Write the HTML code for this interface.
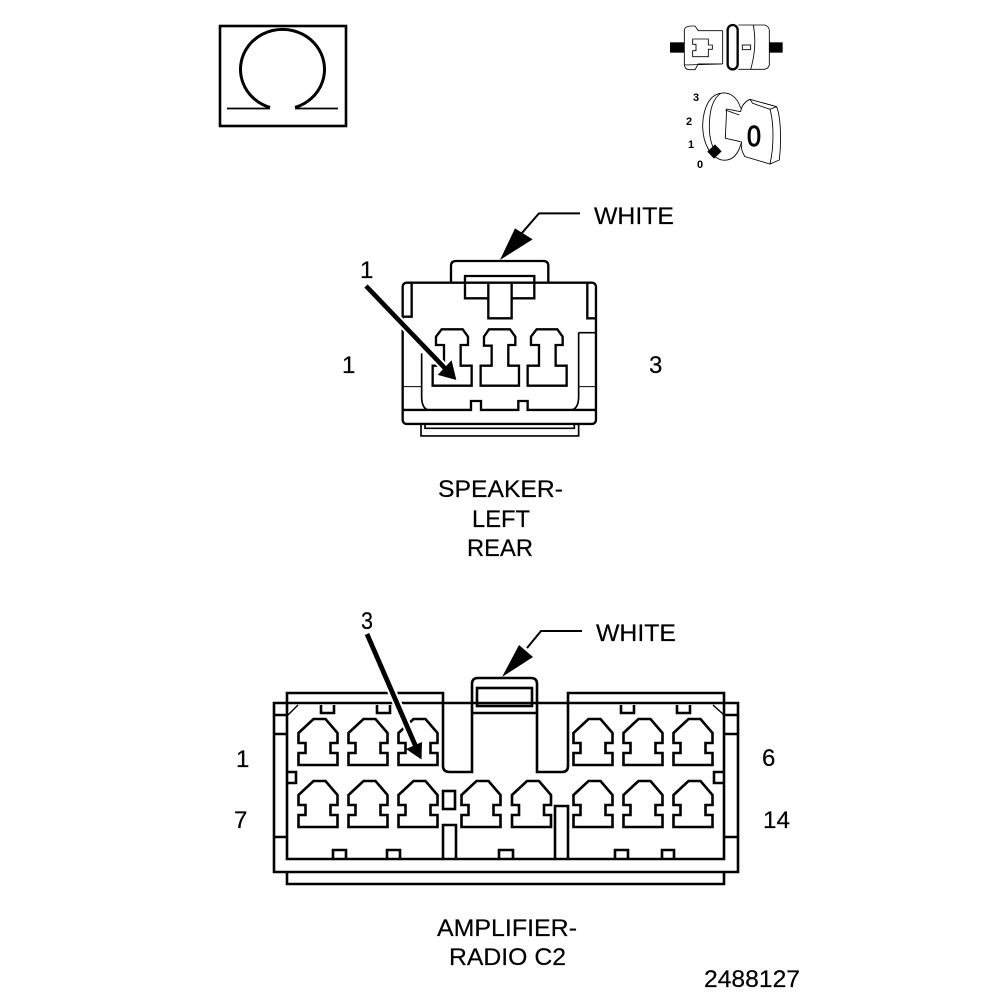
<!DOCTYPE html>
<html><head><meta charset="utf-8"><style>
html,body{margin:0;padding:0;background:#fff;width:1008px;height:1000px;overflow:hidden}
svg{display:block}
text{font-family:"Liberation Sans",sans-serif;fill:#000}
.l{font-size:24px;stroke:#000;stroke-width:.2px}
</style></head><body>
<svg width="1008" height="1000" viewBox="0 0 1008 1000" xmlns="http://www.w3.org/2000/svg">
<rect width="1008" height="1000" fill="#fff"/>
<defs>
<path id="cav" d="M15 0H27L39 14V24H32V34H39V46H0V34H7V24H0V14Z" fill="none" stroke="#000" stroke-width="2.600"/>
</defs>

<!-- Omega box -->
<rect x="220" y="26" width="126" height="100" fill="none" stroke="#000" stroke-width="2.600"/>
<path d="M270 107.500A42 40 0 1 1 295 107.500" fill="none" stroke="#000" stroke-width="3"/>
<path d="M227 108.500H270M295 108.500H338" fill="none" stroke="#000" stroke-width="1.800"/>

<!-- Icons (zoom coordinates) -->
<g transform="translate(650,10) scale(.3333)" fill="none" stroke="#000" stroke-width="2.600">
<rect x="60" y="97" width="43" height="31" fill="#000" stroke="none"/>
<rect x="358" y="97" width="40" height="31" fill="#000" stroke="none"/>
<path d="M103 60Q105 48 125 48H135L145 62H218M218 162H145L135 179H118Q105 179 103 165Z"/>
<path d="M103 60V165M218 62V162"/>
<path d="M128 87H175V105H187V118H175V140H128V122H138V103H128Z"/>
<path d="M265 45H345Q358 50 358 62V165Q355 178 340 178H265"/>
<path d="M310 45Q322 110 302 178"/>
<rect x="277" y="105" width="25" height="14"/>
<rect x="233" y="45" width="30" height="133" rx="15" stroke-width="7"/>
<path d="M272 295C262 258 235 245 212 250C180 255 160 290 158 345C158 400 180 440 215 450C245 455 265 435 275 395"/>
<path d="M212 250C190 265 178 300 178 350C178 385 185 410 200 430"/>
<path d="M272 305L230 297L226 385L272 395"/>
<path d="M226 300L268 315"/>
<path d="M272 305C275 285 285 275 300 268L380 290C392 320 395 390 388 450L360 462L285 440C275 425 272 410 275 395"/>
<path d="M300 268L308 280L360 298L380 290M360 298C372 340 372 410 360 462"/>
<polygon points="172,425 195,403 215,424 192,446" fill="#000" stroke="none"/>
</g>
<text x="693" y="101" font-size="11" font-weight="700">3</text>
<text x="686" y="125" font-size="11" font-weight="700">2</text>
<text x="688" y="148" font-size="11" font-weight="700">1</text>
<text x="697" y="168" font-size="11" font-weight="700">0</text>
<text x="747" y="146" font-size="29" textLength="14" lengthAdjust="spacingAndGlyphs" stroke="#000" stroke-width=".9">0</text>

<!-- Speaker connector (zoom coordinates) -->
<g transform="translate(340,200) scale(.3333)" fill="none" stroke="#000" stroke-width="7">
<path d="M333 248V198Q333 183 348 183H610Q625 183 625 198V248"/>
<rect x="188" y="248" width="580" height="424" rx="12"/>
<path d="M188 630H393V603H423V630H535V603H563V630H768"/>
<path d="M243 672V708H716V672M255 672V685H703V672" stroke-width="5"/>
<path d="M375 228H583V295H375Z" fill="#fff"/>
<path d="M375 248H583"/>
<path d="M445 252V355H515V252" fill="#fff"/>
<path d="M215 250V350H188M742 250V355H768"/>
<path d="M716 398H768M716 398V590Q716 625 695 630M265 630Q245 625 245 590V460" stroke-width="5"/>
<path d="M190 560H245M716 560H768" stroke-width="3"/>
<path d="M305 388H368L384 410V435H362V497H395V557H278V497H312V435H288V410Z"/>
<path d="M447 388H510L526 410V435H505V497H537V557H422V497H455V437H432V410Z"/>
<path d="M590 388H652L668 410V435H647V497H680V557H563V497H597V435H573V410Z"/>
<path d="M78 258L330 520" stroke="#fff" stroke-width="26"/>
<path d="M78 258L320 510" stroke-width="14"/>
<polygon points="347,538 296,524 334,484" fill="#000" stroke="#000" stroke-width="3"/>
<path d="M720 40H597L545 100" stroke-width="6"/>
<polygon points="480,180 525,85 578,118" fill="#000" stroke="none"/>
</g>
<text x="360" y="278" class="l">1</text>
<text x="594" y="224" class="l" textLength="80" lengthAdjust="spacingAndGlyphs">WHITE</text>
<text x="342" y="373" class="l">1</text>
<text x="649" y="373" class="l">3</text>
<text x="438" y="497" class="l" textLength="125" lengthAdjust="spacingAndGlyphs">SPEAKER-</text>
<text x="472" y="527" class="l" textLength="58" lengthAdjust="spacingAndGlyphs">LEFT</text>
<text x="467" y="556" class="l" textLength="66" lengthAdjust="spacingAndGlyphs">REAR</text>

<!-- Amplifier connector -->
<g fill="none" stroke="#000" stroke-width="2.600">
<path d="M287 703V693H443V703M568 703V693H724V703"/>
<path d="M274 703H443M568 703H738V872H274V703Z"/>
<path d="M287 703V859H724V703"/>
<path d="M287 872V884H724V872"/>
<path d="M274 715H288M274 734H287M274 837H287M738 715H724M738 734H724M738 837H724"/>
<path d="M288 715L298 705M724 715L713 705" stroke-width="1.400"/>
<path d="M443 703V766Q443 772 450 772H472V684Q472 678 478 678H531Q537 678 537 684V772H562Q568 772 568 766V703"/>
<rect x="477" y="688" width="55" height="18"/>
<path d="M472 713H537"/>
<path d="M321 705V713H334V705M377 705V713H390V705M621 705V713H634V705M677 705V713H690V705"/>
<path d="M287 772H296V783H287M724 772H714V783H724"/>
<path d="M333 859V850H346V859M387 859V850H400V859M499 859V850H513V859M615 859V850H628V859M662 859V850H674V859"/>
<rect x="443" y="791" width="12" height="18"/>
<path d="M443 859V825H456V859M555 859V806H568V859"/>
</g>
<use href="#cav" x="298.500" y="719"/>
<use href="#cav" x="348.500" y="719"/>
<use href="#cav" x="398.500" y="719"/>
<use href="#cav" x="573.500" y="719"/>
<use href="#cav" x="623.500" y="719"/>
<use href="#cav" x="673.500" y="719"/>
<use href="#cav" x="298.500" y="781"/>
<use href="#cav" x="348.500" y="781"/>
<use href="#cav" x="398.500" y="781"/>
<use href="#cav" x="461.500" y="781"/>
<use href="#cav" x="512" y="781"/>
<use href="#cav" x="573.500" y="781"/>
<use href="#cav" x="623.500" y="781"/>
<use href="#cav" x="673.500" y="781"/>
<path d="M367 634L420 756" stroke="#fff" stroke-width="9" fill="none"/>
<path d="M367 634L416 747" stroke="#000" stroke-width="4.800" fill="none"/>
<polygon points="421.500,759.500 406,749 422,742" fill="#000"/>
<path d="M582 631H541L527 648" fill="none" stroke="#000" stroke-width="2"/>
<polygon points="502,677 519,645 533,657" fill="#000"/>
<text x="361" y="629" class="l" textLength="12" lengthAdjust="spacingAndGlyphs">3</text>
<text x="596" y="641" class="l" textLength="80" lengthAdjust="spacingAndGlyphs">WHITE</text>
<text x="236" y="767" class="l">1</text>
<text x="762" y="766" class="l">6</text>
<text x="234" y="828" class="l">7</text>
<text x="763" y="828" class="l" textLength="27" lengthAdjust="spacingAndGlyphs">14</text>
<text x="437" y="936" class="l" textLength="140" lengthAdjust="spacingAndGlyphs">AMPLIFIER-</text>
<text x="449" y="965" class="l" textLength="117" lengthAdjust="spacingAndGlyphs">RADIO C2</text>
<text x="704" y="987" class="l" textLength="96" lengthAdjust="spacingAndGlyphs">2488127</text>
</svg>
</body></html>
